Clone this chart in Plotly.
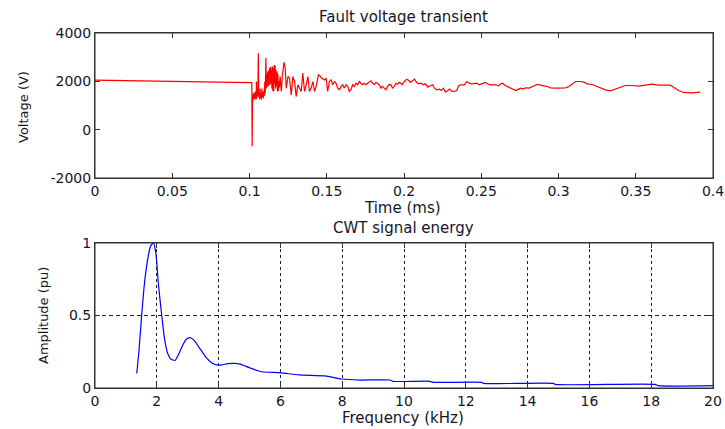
import plotly.graph_objects as go

# ---------------- data ----------------
time_ms = [
    0.0, 0.03, 0.06, 0.09, 0.1015,
    0.1017, 0.1019, 0.1022, 0.1025, 0.1028, 0.1031, 0.1034, 0.1037, 0.1040, 0.1043,
    0.1045, 0.1048, 0.1051, 0.1054, 0.1057, 0.1060, 0.1063, 0.1066, 0.1069, 0.1072,
    0.1075, 0.1078, 0.1081, 0.1084, 0.1087, 0.1090, 0.1093, 0.1096, 0.1099, 0.1102,
    0.1106, 0.1109, 0.1112, 0.1115, 0.1118, 0.1121, 0.1124, 0.1127, 0.1130, 0.1133,
    0.1136, 0.1139, 0.1142, 0.1145, 0.1148, 0.1151, 0.1154, 0.1157, 0.1160, 0.1163,
    0.1166, 0.1169, 0.1172, 0.1175, 0.1178, 0.1181, 0.1184, 0.1187, 0.1190, 0.1194,
    0.1198, 0.1202, 0.1206, 0.1212, 0.1223, 0.1231, 0.1238, 0.1249, 0.1259, 0.1270,
    0.1281, 0.1292, 0.1302, 0.1313, 0.1324, 0.1335, 0.1345, 0.1356, 0.1367, 0.1378,
    0.1388, 0.1399, 0.1410, 0.1421, 0.1431, 0.1446, 0.1459, 0.1468, 0.1485, 0.1496,
    0.1506, 0.1517, 0.1528, 0.1539, 0.1550, 0.1560, 0.1571, 0.1582, 0.1593, 0.1603,
    0.1614, 0.1625, 0.1636, 0.1646, 0.1657, 0.1668, 0.1679, 0.1689, 0.1700, 0.1711,
    0.1722, 0.1732, 0.1743, 0.1754, 0.1765, 0.1786, 0.1797, 0.1808, 0.1818, 0.1829,
    0.1840, 0.1851, 0.1861, 0.1872, 0.1883, 0.1894, 0.1904, 0.1915, 0.1926, 0.1937,
    0.1947, 0.1958, 0.1969, 0.1980, 0.1988, 0.2003, 0.2018, 0.2031, 0.2042, 0.2057,
    0.2068, 0.2083, 0.2096, 0.2111, 0.2126, 0.2139, 0.2154, 0.2169, 0.2186, 0.2197,
    0.2212, 0.2229, 0.2240, 0.2255, 0.2268, 0.2283, 0.2294, 0.2311, 0.2326, 0.2341,
    0.2354, 0.2369, 0.2390, 0.2407, 0.2423, 0.2440, 0.2455, 0.2470, 0.2487, 0.2509,
    0.2526, 0.2541, 0.2556, 0.2595, 0.2612, 0.2627, 0.2638, 0.2655, 0.2681, 0.2702,
    0.2724, 0.2741, 0.2756, 0.2771, 0.2788, 0.2810, 0.2827, 0.2842, 0.2863, 0.2885,
    0.2906, 0.2928, 0.2949, 0.2982, 0.3025, 0.3046, 0.3068, 0.3089, 0.3111, 0.3143,
    0.3164, 0.3186, 0.3218, 0.3250, 0.3304, 0.3336, 0.3369, 0.3401, 0.3433, 0.3476,
    0.3519, 0.3562, 0.3605, 0.3648, 0.3723, 0.3745, 0.3777, 0.3809, 0.3863, 0.3917,
]
voltage_v = [
    2050, 2010, 1990, 1960, 1950,
    -690, 900, 1450, 1250, 1550, 1250, 1500, 1280, 1580, 1250,
    1990, 1300, 1550, 1400, 3160, 1350, 1500, 1250, 1700, 1300,
    1500, 1240, 1700, 1350, 1550, 1300, 1600, 1400, 1990, 1500,
    2980, 1700, 2300, 1780, 2400, 1800, 2450, 1850, 2550, 1860,
    2600, 1900, 2500, 1700, 2610, 1600, 2550, 1580, 2680, 1900,
    2650, 1700, 2470, 1800, 2400, 1580, 2300, 1600, 2000, 1750,
    2200, 1900, 1580, 2200, 2790, 2540, 1720, 2200, 2130, 1440,
    2200, 1990, 1370, 1860, 1720, 1580, 2340, 1580, 1860, 2200,
    1580, 1720, 1990, 1580, 1790, 2270, 2200, 2130, 2060, 2130,
    1580, 1990, 2060, 1860, 1990, 1920, 1720, 1650, 1790, 1860,
    1720, 1860, 1790, 1580, 1650, 1860, 1790, 1920, 1860, 1990,
    1920, 1860, 1920, 1860, 1920, 2020, 1920, 1860, 1960, 1920,
    1860, 1720, 1790, 1720, 1650, 1790, 1860, 1860, 1720, 1790,
    1920, 1880, 1960, 1920, 1856, 1993, 2090, 2035, 1952, 2035,
    2090, 1952, 1897, 1925, 1856, 1897, 1760, 1815, 1856, 1718,
    1650, 1677, 1622, 1718, 1553, 1622, 1677, 1581, 1581, 1622,
    1815, 1856, 1856, 1993, 1925, 1897, 1897, 1925, 1856, 1925,
    1952, 1897, 1856, 1856, 1815, 1897, 1925, 1828, 1760, 1677,
    1622, 1677, 1718, 1677, 1732, 1718, 1787, 1815, 1870, 1856,
    1815, 1787, 1732, 1718, 1718, 1732, 1787, 1897, 1993, 1993,
    1966, 1897, 1870, 1787, 1649, 1608, 1677, 1759, 1828, 1828,
    1800, 1842, 1883, 1842, 1842, 1759, 1622, 1539, 1525, 1553,
]

freq_khz = [
    1.35, 1.42, 1.51, 1.60, 1.70, 1.80, 1.89, 1.97, 2.05, 2.16,
    2.25, 2.35, 2.45, 2.59, 2.70, 2.85, 2.95, 3.07, 3.20, 3.40,
    3.60, 3.80, 3.94, 4.10, 4.30, 4.50, 4.70, 5.00, 5.39, 5.99,
    6.60, 7.44, 7.98, 8.58, 9.55, 9.65, 10.84, 10.95, 12.52, 12.57,
    14.84, 14.89, 18.12, 18.23, 20.0,
]
amplitude_pu = [
    0.10, 0.25, 0.50, 0.72, 0.88, 0.98, 1.00, 0.93, 0.72, 0.50,
    0.34, 0.24, 0.20, 0.19, 0.23, 0.30, 0.335, 0.347, 0.33, 0.27,
    0.21, 0.17, 0.159, 0.16, 0.168, 0.170, 0.165, 0.14, 0.112, 0.106,
    0.09, 0.083, 0.062, 0.055, 0.055, 0.046, 0.046, 0.039, 0.039, 0.032,
    0.032, 0.025, 0.025, 0.016, 0.016,
]

top_xticks = [0, 0.05, 0.1, 0.15, 0.2, 0.25, 0.3, 0.35, 0.4]
top_xlabels = ["0", "0.05", "0.1", "0.15", "0.2", "0.25", "0.3", "0.35", "0.4"]
top_yticks = [-2000, 0, 2000, 4000]
top_ylabels = ["-2000", "0", "2000", "4000"]
bot_xticks = [0, 2, 4, 6, 8, 10, 12, 14, 16, 18, 20]
bot_yticks = [0, 0.5, 1]
bot_ylabels = ["0", "0.5", "1"]

# ---------------- figure ----------------
W, H = 725, 429
FONT = "DejaVu Sans, Arial, sans-serif"
TXT = "#15152a"
FRAME = "#333333"

fig = go.Figure()
fig.add_trace(go.Scatter(x=time_ms, y=voltage_v, mode="lines",
                         line=dict(color="#ff0000", width=1.2),
                         xaxis="x", yaxis="y", showlegend=False))
fig.add_trace(go.Scatter(x=freq_khz, y=amplitude_pu, mode="lines",
                         line=dict(color="#0000ff", width=1.2, shape="spline", smoothing=0.6),
                         xaxis="x2", yaxis="y2", showlegend=False))

def px(x):
    return x / W

def py(y):
    return 1 - y / H

axis_common = dict(showline=True, linecolor=FRAME, linewidth=1, mirror="allticks",
                   ticks="inside", ticklen=5, tickcolor=FRAME, zeroline=False,
                   automargin=False, ticklabeloverflow="allow",
                   tickfont=dict(family=FONT, size=14, color=TXT))

fig.update_layout(
    width=W, height=H, margin=dict(l=0, r=0, t=0, b=0),
    paper_bgcolor="white", plot_bgcolor="white",
    xaxis=dict(domain=[px(95), px(713)], range=[0, 0.4], tickvals=top_xticks,
               ticktext=top_xlabels, showgrid=False, anchor="y", **axis_common),
    yaxis=dict(domain=[py(178), py(33)], range=[-2000, 4000], tickvals=top_yticks,
               ticktext=top_ylabels, showgrid=False, anchor="x", **axis_common),
    xaxis2=dict(domain=[px(95), px(713)], range=[0, 20], tickvals=bot_xticks,
                showgrid=True, gridcolor="#222222", gridwidth=1, griddash="3px,3px",
                anchor="y2", **axis_common),
    yaxis2=dict(domain=[py(388), py(243)], range=[0, 1], tickvals=bot_yticks,
                ticktext=bot_ylabels, showgrid=True, gridcolor="#222222", gridwidth=1,
                griddash="4px,3px", anchor="x2", **axis_common),
)

# plot frames (box around each axes area)
for xr, yr in (("x domain", "y domain"), ("x2 domain", "y2 domain")):
    fig.add_shape(type="rect", xref=xr, yref=yr, x0=0, x1=1, y0=0, y1=1,
                  line=dict(color=FRAME, width=1), fillcolor="rgba(0,0,0,0)", layer="above")

def label(text, x, y, angle=0, size=15):
    fig.add_annotation(text=text, x=px(x), y=py(y), xref="paper", yref="paper",
                       showarrow=False, textangle=angle, xanchor="center", yanchor="middle",
                       font=dict(family=FONT, size=size, color=TXT))

label("Fault voltage transient", 404, 17)
label("Time (ms)", 402, 208)
label("CWT signal energy", 403, 228)
label("Frequency (kHz)", 403, 418)
label("Voltage (V)", 23, 107, angle=-90, size=13)
label("Amplitude (pu)", 43, 316, angle=-90, size=13)

fig.write_html("out.html")
